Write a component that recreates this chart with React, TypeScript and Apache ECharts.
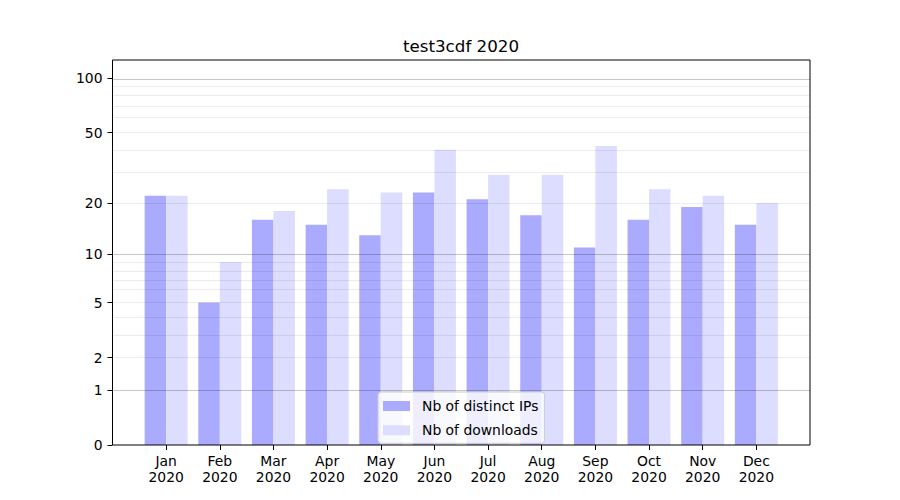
import React, { useEffect, useRef } from "react";
import * as echarts from "echarts";

const months = ["Jan", "Feb", "Mar", "Apr", "May", "Jun", "Jul", "Aug", "Sep", "Oct", "Nov", "Dec"];
const year = "2020";
const distinctIPs = [22, 5, 16, 15, 13, 23, 21, 17, 11, 16, 19, 15];
const downloads = [22, 9, 18, 24, 23, 40, 29, 29, 42, 24, 22, 20];
const yTickLabels = [0, 1, 2, 5, 10, 20, 50, 100];
const majorGrid = [1, 10, 100];
const minorGrid = [2, 3, 4, 5, 6, 7, 8, 9, 20, 30, 40, 50, 60, 70, 80, 90];
const yTop = 126;
const title = "test3cdf 2020";

// log10(1 + x) scale, as in the reference
const tf = (v: number) => Math.log10(1 + v);
const FONT = "DejaVu Sans";

export default function App() {
  const ref = useRef<HTMLDivElement>(null);
  useEffect(() => {
    if (!ref.current) return;
    const chart = echarts.init(ref.current, null, { renderer: "svg" });
    const idx = months.map((_, i) => i);
    chart.setOption({
      animation: false,
      textStyle: { fontFamily: FONT },
      grid: {
        left: 112.5,
        right: 90,
        top: 60,
        bottom: 55,
        show: true,
        borderColor: "#000",
        borderWidth: 1,
        backgroundColor: "transparent",
        z: 7,
      },
      graphic: [
        {
          type: "text",
          x: 461,
          y: 37,
          z: 100,
          style: {
            text: title,
            textAlign: "center",
            fill: "#000",
            fontFamily: FONT,
            fontSize: 16.7,
          },
        },
      ],
      legend: {
        orient: "vertical",
        left: 378,
        top: 392,
        z: 20,
        data: ["Nb of distinct IPs", "Nb of downloads"],
        icon: "rect",
        itemWidth: 27,
        itemHeight: 10,
        itemGap: 10.3,
        padding: [7, 6, 6, 5],
        backgroundColor: "rgba(255,255,255,0.8)",
        borderColor: "#cccccc",
        borderWidth: 1,
        borderRadius: 3,
        textStyle: {
          fontFamily: FONT,
          fontSize: 13.9,
          color: "#000",
          padding: [0, 0, 0, 7],
        },
      },
      xAxis: {
        type: "value",
        min: -1,
        max: 12,
        interval: 1,
        splitLine: { show: false },
        axisLine: { show: false, onZero: false },
        axisTick: {
          show: true,
          length: 5,
          lineStyle: { color: "#000" },
          customValues: idx,
        },
        axisLabel: {
          customValues: idx,
          color: "#000",
          fontFamily: FONT,
          fontSize: 13.9,
          lineHeight: 16,
          margin: 8,
          formatter: (v: number) => `${months[Math.round(v)]}\n${year}`,
        },
      },
      yAxis: {
        type: "value",
        min: 0,
        max: tf(yTop),
        splitLine: { show: false },
        axisLine: { show: false, onZero: false },
        axisTick: {
          show: true,
          length: 5,
          lineStyle: { color: "#000" },
          customValues: yTickLabels.map(tf),
        },
        axisLabel: {
          customValues: yTickLabels.map(tf),
          color: "#000",
          fontFamily: FONT,
          fontSize: 13.9,
          margin: 10,
          formatter: (v: number) => String(Math.round(Math.pow(10, v) - 1)),
        },
      },
      series: [
        {
          name: "Nb of distinct IPs",
          type: "bar",
          barWidth: 21.5,
          barGap: "0%",
          itemStyle: { color: "#aaaaff" },
          data: distinctIPs.map((v, i) => [i, tf(v)]),
          markLine: {
            silent: true,
            symbol: ["none", "none"],
            label: { show: false },
            z: 6,
            data: [
              ...minorGrid.map((v) => ({
                yAxis: tf(v),
                lineStyle: { color: "rgba(0,0,0,0.075)", width: 1, type: "solid" },
              })),
              ...majorGrid.map((v) => ({
                yAxis: tf(v),
                lineStyle: { color: "rgba(0,0,0,0.22)", width: 1, type: "solid" },
              })),
            ],
          },
        },
        {
          name: "Nb of downloads",
          type: "bar",
          barWidth: 21.5,
          barGap: "0%",
          itemStyle: { color: "#ddddff" },
          data: downloads.map((v, i) => [i, tf(v)]),
        },
      ],
    });
    return () => chart.dispose();
  }, []);
  return (
    <div
      ref={ref}
      style={{ position: "fixed", left: 0, top: 0, width: 900, height: 500, background: "#fff" }}
    />
  );
}
